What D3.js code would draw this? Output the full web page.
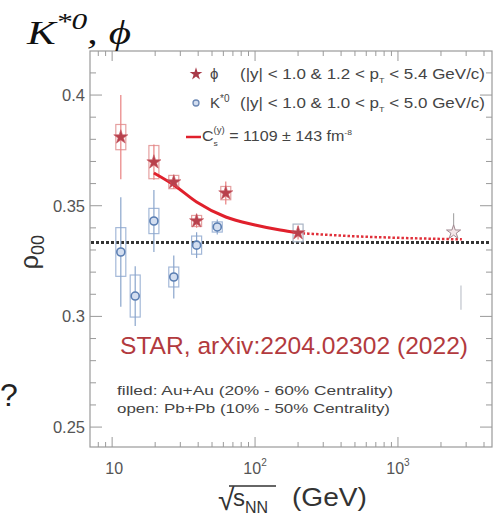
<!DOCTYPE html>
<html>
<head>
<meta charset="utf-8">
<script src="https://cdn.jsdelivr.net/npm/d3@7"></script>
<style>
  html, body { margin: 0; padding: 0; background: #fff; }
  svg { display: block; font-family: "Liberation Sans", Arial, Helvetica, sans-serif; }
</style>
</head>
<body>
<svg id="chart" width="493" height="521"></svg>
<script>
// ---- data: spin alignment rho_00 vs collision energy ----
// phi meson, Au+Au (filled stars)
const phiEnergy   = [11.5, 19.6, 27, 39, 62.4, 200];
const phiRho      = [0.381, 0.3697, 0.3607, 0.3431, 0.3557, 0.3377];
const phiStat     = [0.019, 0.008, 0.003, 0.003, 0.0052, 0.003];
const phiSys      = [0.0057, 0.0075, 0.003, 0.0025, 0.003, 0.004];
// K*0, Au+Au (circles)
const kstarEnergy = [11.5, 14.5, 19.6, 27, 39, 54.4];
const kstarRho    = [0.3291, 0.3092, 0.3431, 0.3178, 0.3322, 0.3404];
const kstarStat   = [0.0247, 0.0135, 0.014, 0.0097, 0.0058, 0.0034];
const kstarSys    = [0.011, 0.0095, 0.0057, 0.0045, 0.0041, 0.0023];
// Pb+Pb (open markers)
const phiPbEnergy = [2450];
const phiPbRho    = [0.338];
const phiPbStatHi = [0.0086];
const kstarPbEnergy = [2760];
const kstarPbLo     = [0.303];
const kstarPbHi     = [0.314];
// phi-field model curve (solid over the fitted range, dotted beyond)
const fitEnergy   = [19.6, 27, 39, 62.4, 100, 150, 200];
const fitRho      = [0.3648, 0.3594, 0.3517, 0.3449, 0.3413, 0.339, 0.3377];
const extEnergy   = [200, 500, 1000, 2800];
const extRho      = [0.3377, 0.3362, 0.3355, 0.3348];
// axes
const xMajorTicks = [10, 100, 1000];
const xTickLabels = [["10", ""], ["10", "2"], ["10", "3"]];
const yMajorTicks = [0.25, 0.3, 0.35, 0.4];
const yTickLabels = ["0.25", "0.3", "0.35", "0.4"];
const unpolarized = 1 / 3;

const svg = d3.select("#chart");
const L = 90, R = 492, T = 51, B = 447;

const x = d3.scaleLog().domain([7.0, 4550]).range([L, R]);
const y = d3.scaleLinear().domain([0.241, 0.4199]).range([B, T]);

// frame
svg.append("rect").attr("x", L).attr("y", T).attr("width", R - L).attr("height", B - T)
  .attr("fill", "none").attr("stroke", "#9a9a9a").attr("stroke-width", 1.2);

// ticks (inside the frame on all four sides)
const xMinor = [];
[1, 10, 100, 1000].forEach(d => { for (let k = 2; k <= 9; k++) { const v = d * k; if (v > 7 && v < 4550) xMinor.push(v); } });
const tickG = svg.append("g").attr("stroke", "#9a9a9a").attr("stroke-width", 1);
function xTick(v, len) {
  tickG.append("line").attr("x1", x(v)).attr("x2", x(v)).attr("y1", B).attr("y2", B - len);
  tickG.append("line").attr("x1", x(v)).attr("x2", x(v)).attr("y1", T).attr("y2", T + len);
}
xMinor.forEach(v => xTick(v, 5));
xMajorTicks.forEach(v => xTick(v, 10));
const yMinor = d3.range(0.25, 0.42, 0.01).filter(v => !yMajorTicks.some(m => Math.abs(m - v) < 1e-6));
function yTick(v, len) {
  tickG.append("line").attr("x1", L).attr("x2", L + len).attr("y1", y(v)).attr("y2", y(v));
  tickG.append("line").attr("x1", R).attr("x2", R - len).attr("y1", y(v)).attr("y2", y(v));
}
yMinor.forEach(v => yTick(v, 6));
yMajorTicks.forEach(v => yTick(v, 12));

// tick labels
xMajorTicks.forEach((v, i) => {
  const t = svg.append("text").attr("x", x(v) + (xTickLabels[i][1] ? 0 : 2)).attr("y", 474).attr("text-anchor", "middle")
    .attr("font-size", 16).attr("fill", "#555").text(xTickLabels[i][0]);
  if (xTickLabels[i][1]) t.append("tspan").attr("dy", -8).attr("font-size", 10).text(xTickLabels[i][1]);
});
yMajorTicks.forEach((v, i) => {
  svg.append("text").attr("x", 85).attr("y", y(v) + 6).attr("text-anchor", "end")
    .attr("font-size", 16.5).attr("fill", "#555").text(yTickLabels[i]);
});

// axis titles
const yl = svg.append("text").attr("transform", "translate(38,252) rotate(-90)")
  .attr("text-anchor", "middle").attr("font-size", 25).attr("fill", "#333");
yl.append("tspan").text("ρ");
yl.append("tspan").attr("dy", 6).attr("font-size", 18).text("00");

svg.append("text").attr("x", 218).attr("y", 510).attr("font-size", 30).attr("fill", "#333").text("√");
const xl = svg.append("text").attr("x", 233).attr("y", 506).attr("font-size", 24).attr("fill", "#333");
xl.append("tspan").text("s");
xl.append("tspan").attr("dy", 7).attr("font-size", 16).text("NN");
svg.append("text").attr("x", 292).attr("y", 506).attr("font-size", 25).attr("fill", "#333")
  .attr("textLength", 75).attr("lengthAdjust", "spacingAndGlyphs").text("(GeV)");
svg.append("line").attr("x1", 229).attr("x2", 276).attr("y1", 486).attr("y2", 486)
  .attr("stroke", "#333").attr("stroke-width", 1.3);

// main title
const title = svg.append("text").attr("x", 27).attr("y", 44)
  .style("font-family", "'Liberation Serif', 'Times New Roman', serif")
  .attr("font-style", "italic").attr("font-size", 33).attr("fill", "#111")
  .attr("textLength", 104).attr("lengthAdjust", "spacingAndGlyphs");
title.append("tspan").text("K");
title.append("tspan").attr("dy", -15).attr("font-size", 24).text("*0");
title.append("tspan").attr("dy", 15).text(", ϕ");

// partial glyph at the left edge
svg.append("text").attr("x", 0).attr("y", 406).attr("font-size", 32).attr("fill", "#222").text("?");

// unpolarized reference line
svg.append("line").attr("x1", L + 1).attr("x2", R - 1).attr("y1", y(unpolarized)).attr("y2", y(unpolarized))
  .attr("stroke", "#333").attr("stroke-width", 3).attr("stroke-dasharray", "3,2");

// model extension (dotted)
const line = d3.line().x(d => x(d[0])).y(d => y(d[1])).curve(d3.curveMonotoneX);
svg.append("path").datum(extEnergy.map((e, i) => [e, extRho[i]])).attr("d", line)
  .attr("fill", "none").attr("stroke", "#e0303a").attr("stroke-width", 2.5).attr("stroke-dasharray", "2.5,2");

// K*0 systematic boxes and statistical bars
const bw = 5;
const kG = svg.append("g");
kstarEnergy.forEach((e, i) => {
  kG.append("rect").attr("x", x(e) - bw).attr("width", 2 * bw)
    .attr("y", y(kstarRho[i] + kstarSys[i])).attr("height", y(kstarRho[i] - kstarSys[i]) - y(kstarRho[i] + kstarSys[i]))
    .attr("fill", "none").attr("stroke", "#a3b8d8").attr("stroke-width", 1.2);
  kG.append("line").attr("x1", x(e)).attr("x2", x(e))
    .attr("y1", y(kstarRho[i] + kstarStat[i])).attr("y2", y(kstarRho[i] - kstarStat[i]))
    .attr("stroke", "#8aa5cc").attr("stroke-width", 1.2);
});
kstarPbEnergy.forEach((e, i) => {
  kG.append("line").attr("x1", x(e)).attr("x2", x(e)).attr("y1", y(kstarPbHi[i])).attr("y2", y(kstarPbLo[i]))
    .attr("stroke", "#c0c4cc").attr("stroke-width", 1.2);
});

// phi systematic boxes and statistical bars
const pG = svg.append("g");
phiEnergy.forEach((e, i) => {
  pG.append("rect").attr("x", x(e) - bw).attr("width", 2 * bw)
    .attr("y", y(phiRho[i] + phiSys[i])).attr("height", y(phiRho[i] - phiSys[i]) - y(phiRho[i] + phiSys[i]))
    .attr("fill", "none").attr("stroke", i === 5 ? "#a9b4c4" : "#e5a0a0").attr("stroke-width", 1.2);
  pG.append("line").attr("x1", x(e)).attr("x2", x(e))
    .attr("y1", y(phiRho[i] + phiStat[i])).attr("y2", y(phiRho[i] - phiStat[i]))
    .attr("stroke", "#e88080").attr("stroke-width", 1.2);
});
phiPbEnergy.forEach((e, i) => {
  pG.append("line").attr("x1", x(e)).attr("x2", x(e)).attr("y1", y(phiPbRho[i] + phiPbStatHi[i])).attr("y2", y(phiPbRho[i]))
    .attr("stroke", "#aaa").attr("stroke-width", 1.2);
});

// model curve (solid)
svg.append("path").datum(fitEnergy.map((e, i) => [e, fitRho[i]])).attr("d", line)
  .attr("fill", "none").attr("stroke", "#e0202c").attr("stroke-width", 3);

// markers
const star = d3.symbol().type(d3.symbolStar).size(62);
kstarEnergy.forEach((e, i) => {
  svg.append("circle").attr("cx", x(e)).attr("cy", y(kstarRho[i])).attr("r", 4)
    .attr("fill", "#d3def0").attr("stroke", "#5b7fb3").attr("stroke-width", 1.6);
});
phiEnergy.forEach((e, i) => {
  svg.append("path").attr("d", star).attr("transform", `translate(${x(e)},${y(phiRho[i])})`)
    .attr("fill", "#b8404c").attr("stroke", "#c85a64").attr("stroke-width", 0.6);
});
phiPbEnergy.forEach((e, i) => {
  svg.append("path").attr("d", star).attr("transform", `translate(${x(e)},${y(phiPbRho[i])})`)
    .attr("fill", "#f4e6e8").attr("stroke", "#a08890").attr("stroke-width", 1);
});

// legend
const lg = svg.append("g").attr("fill", "#444").attr("font-size", 15);
lg.append("path").attr("d", d3.symbol().type(d3.symbolStar).size(50)).attr("transform", "translate(196,74)")
  .attr("fill", "#a83a48");
lg.append("text").attr("x", 210).attr("y", 79).text("ϕ");
const l1 = lg.append("text").attr("x", 240).attr("y", 79)
  .attr("textLength", 245).attr("lengthAdjust", "spacingAndGlyphs");
l1.append("tspan").text("(|y| < 1.0 & 1.2 < p");
l1.append("tspan").attr("dy", 4).attr("font-size", 8).text("T");
l1.append("tspan").attr("dy", -4).text(" < 5.4 GeV/c)");

lg.append("circle").attr("cx", 196).attr("cy", 103).attr("r", 3)
  .attr("fill", "#d3def0").attr("stroke", "#6c88b4").attr("stroke-width", 1.3);
const k = lg.append("text").attr("x", 210).attr("y", 108);
k.append("tspan").text("K");
k.append("tspan").attr("dy", -6).attr("font-size", 10).text("*0");
const l2 = lg.append("text").attr("x", 240).attr("y", 108)
  .attr("textLength", 245).attr("lengthAdjust", "spacingAndGlyphs");
l2.append("tspan").text("(|y| < 1.0 & 1.0 < p");
l2.append("tspan").attr("dy", 4).attr("font-size", 8).text("T");
l2.append("tspan").attr("dy", -4).text(" < 5.0 GeV/c)");

lg.append("line").attr("x1", 186).attr("x2", 201).attr("y1", 137).attr("y2", 137)
  .attr("stroke", "#e0202c").attr("stroke-width", 2.5);
const l3 = lg.append("text").attr("x", 202).attr("y", 141)
  .attr("textLength", 150).attr("lengthAdjust", "spacingAndGlyphs");
l3.append("tspan").text("C");
l3.append("tspan").attr("dy", 5).attr("font-size", 8).text("s");
l3.append("tspan").attr("dx", -4).attr("dy", -13).attr("font-size", 9).text("(y)");
l3.append("tspan").attr("dy", 8).text(" = 1109 ± 143 fm");
l3.append("tspan").attr("dy", -6).attr("font-size", 8).text("-8");

// annotations
svg.append("text").attr("x", 120).attr("y", 354).attr("font-size", 24.5).attr("fill", "#b23a3e")
  .attr("textLength", 348).attr("lengthAdjust", "spacingAndGlyphs")
  .text("STAR, arXiv:2204.02302 (2022)");
svg.append("text").attr("x", 117).attr("y", 395).attr("font-size", 13.5).attr("fill", "#444")
  .attr("textLength", 276).attr("lengthAdjust", "spacingAndGlyphs")
  .text("filled:  Au+Au (20% - 60% Centrality)");
svg.append("text").attr("x", 117).attr("y", 413).attr("font-size", 13.5).attr("fill", "#444")
  .attr("textLength", 273).attr("lengthAdjust", "spacingAndGlyphs")
  .text("open: Pb+Pb (10% - 50% Centrality)");
</script>
</body>
</html>
